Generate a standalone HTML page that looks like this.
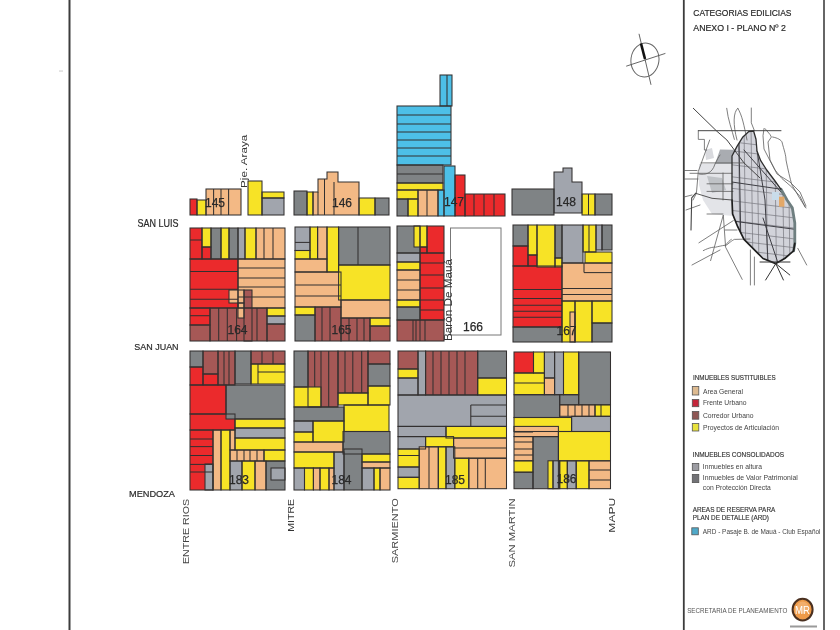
<!DOCTYPE html>
<html><head><meta charset="utf-8">
<style>
html,body{margin:0;padding:0;background:#fff;}
body{width:840px;height:630px;overflow:hidden;position:relative;}
svg{position:absolute;left:0;top:0;filter:blur(0.4px);font-family:"Liberation Sans", sans-serif;}
</style></head><body>
<svg width="840" height="630" viewBox="0 0 840 630">
<rect x="0" y="0" width="840" height="630" fill="#fff"/><rect x="59" y="70.3" width="4" height="1.5" fill="#ddd"/>
<line x1="69.5" y1="0" x2="69.5" y2="630" stroke="#3c3c3c" stroke-width="2"/>
<line x1="683.8" y1="0" x2="683.8" y2="630" stroke="#3c3c3c" stroke-width="1.8"/>
<line x1="824" y1="0" x2="824" y2="630" stroke="#666" stroke-width="2"/>
<g><rect x="190" y="199" width="7" height="16" fill="#EB2A2C"/>
<rect x="197" y="200" width="9" height="15" fill="#F7E326"/>
<rect x="206" y="189" width="35" height="26" fill="#F3B985"/>
<rect x="248" y="181" width="14" height="34" fill="#F7E326"/>
<rect x="262" y="192" width="22" height="6" fill="#F7E326"/>
<rect x="262" y="198" width="22" height="17" fill="#A1A5AD"/>
<rect x="294" y="191" width="13" height="24" fill="#7F8385"/>
<rect x="307" y="192" width="6" height="23" fill="#F7E326"/>
<rect x="359" y="198" width="16" height="17" fill="#F7E326"/>
<rect x="375" y="198" width="14" height="17" fill="#7F8385"/>
<rect x="440" y="75" width="12" height="31" fill="#4DBFE7"/>
<rect x="397" y="106" width="54" height="59" fill="#4DBFE7"/>
<rect x="397" y="165" width="46" height="18" fill="#7F8385"/>
<rect x="397" y="183" width="46" height="7" fill="#F7E326"/>
<rect x="397" y="190" width="21" height="9" fill="#F7E326"/>
<rect x="397" y="199" width="11" height="17" fill="#7F8385"/>
<rect x="408" y="199" width="10" height="17" fill="#F7E326"/>
<rect x="418" y="190" width="20" height="26" fill="#F3B985"/>
<rect x="438" y="190" width="6" height="26" fill="#4DBFE7"/>
<rect x="444" y="166" width="11" height="50" fill="#4DBFE7"/>
<rect x="455" y="175" width="10" height="41" fill="#EB2A2C"/>
<rect x="465" y="194" width="40" height="22" fill="#EB2A2C"/>
<rect x="512" y="189" width="42" height="26" fill="#7F8385"/>
<rect x="582" y="194" width="13" height="21" fill="#F7E326"/>
<rect x="595" y="194" width="17" height="21" fill="#7F8385"/>
<rect x="190" y="228" width="12" height="31" fill="#EB2A2C"/>
<rect x="190" y="259" width="48" height="49" fill="#EB2A2C"/>
<rect x="190" y="308" width="20" height="17" fill="#EB2A2C"/>
<rect x="202" y="247" width="9" height="12" fill="#EB2A2C"/>
<rect x="202" y="228" width="9" height="19" fill="#F7E326"/>
<rect x="211" y="228" width="10" height="31" fill="#7F8385"/>
<rect x="221" y="228" width="8" height="31" fill="#F7E326"/>
<rect x="229" y="228" width="9" height="31" fill="#7F8385"/>
<rect x="238" y="228" width="7" height="31" fill="#A1A5AD"/>
<rect x="245" y="228" width="11" height="31" fill="#F7E326"/>
<rect x="256" y="228" width="29" height="31" fill="#F3B985"/>
<rect x="238" y="259" width="47" height="49" fill="#F3B985"/>
<rect x="190" y="325" width="20" height="16" fill="#A65856"/>
<rect x="210" y="308" width="57" height="33" fill="#A65856"/>
<rect x="229" y="290" width="15" height="13" fill="#F3B985"/>
<rect x="244" y="290" width="8" height="51" fill="#A65856"/>
<rect x="238" y="303" width="6" height="15" fill="#F3B985"/>
<rect x="267" y="308" width="18" height="8" fill="#F7E326"/>
<rect x="267" y="316" width="18" height="8" fill="#A1A5AD"/>
<rect x="267" y="324" width="18" height="17" fill="#A65856"/>
<rect x="295" y="227" width="15" height="23.5" fill="#A1A5AD"/>
<rect x="295" y="250.5" width="15" height="8.5" fill="#F7E326"/>
<rect x="310" y="227" width="7.600000000000023" height="32" fill="#F7E326"/>
<rect x="317.6" y="227" width="9.399999999999977" height="32" fill="#F3B985"/>
<rect x="327" y="227" width="11.600000000000023" height="45" fill="#F7E326"/>
<rect x="338.6" y="227" width="51.39999999999998" height="38" fill="#7F8385"/>
<rect x="295" y="259" width="32" height="13" fill="#F3B985"/>
<rect x="295" y="272" width="46" height="35" fill="#F3B985"/>
<rect x="338.6" y="265" width="51.39999999999998" height="35" fill="#F7E326"/>
<rect x="341" y="300" width="49" height="18" fill="#F3B985"/>
<rect x="295" y="307" width="20" height="8" fill="#F7E326"/>
<rect x="295" y="315" width="20" height="26" fill="#7F8385"/>
<rect x="315" y="307" width="26" height="34" fill="#A65856"/>
<rect x="341" y="318" width="29" height="23" fill="#A65856"/>
<rect x="370" y="318" width="20" height="8" fill="#F7E326"/>
<rect x="370" y="326" width="20" height="15" fill="#A65856"/>
<rect x="397" y="226" width="23" height="27" fill="#7F8385"/>
<rect x="420" y="247" width="7" height="6" fill="#EB2A2C"/>
<rect x="414" y="226" width="13" height="21" fill="#F7E326"/>
<rect x="427" y="226" width="17" height="27" fill="#EB2A2C"/>
<rect x="397" y="253" width="23" height="9" fill="#A1A5AD"/>
<rect x="397" y="262" width="23" height="8" fill="#F7E326"/>
<rect x="397" y="270" width="23" height="30" fill="#F3B985"/>
<rect x="397" y="300" width="23" height="7" fill="#F7E326"/>
<rect x="397" y="307" width="23" height="13" fill="#7F8385"/>
<rect x="420" y="253" width="24" height="67" fill="#EB2A2C"/>
<rect x="397" y="320" width="47" height="21" fill="#A65856"/>
<rect x="513" y="225" width="15" height="21" fill="#7F8385"/>
<rect x="513" y="246" width="15" height="20" fill="#EB2A2C"/>
<rect x="528" y="255" width="9" height="11" fill="#EB2A2C"/>
<rect x="513" y="266" width="49" height="61" fill="#EB2A2C"/>
<rect x="528" y="225" width="9" height="30" fill="#F7E326"/>
<rect x="537" y="225" width="18" height="42" fill="#F7E326"/>
<rect x="555" y="258" width="7" height="9" fill="#F7E326"/>
<rect x="555" y="225" width="7" height="33" fill="#7F8385"/>
<rect x="562" y="225" width="21" height="38" fill="#A1A5AD"/>
<rect x="583" y="225" width="13" height="27" fill="#F7E326"/>
<rect x="596" y="225" width="6" height="25" fill="#A1A5AD"/>
<rect x="602" y="225" width="10" height="25" fill="#7F8385"/>
<rect x="585" y="252" width="27" height="11" fill="#F7E326"/>
<rect x="562" y="263" width="50" height="38" fill="#F3B985"/>
<rect x="562" y="301" width="13" height="41" fill="#F7E326"/>
<rect x="570" y="312" width="5" height="30" fill="#F3B985"/>
<rect x="575" y="301" width="17" height="41" fill="#F7E326"/>
<rect x="592" y="301" width="20" height="22" fill="#F7E326"/>
<rect x="592" y="323" width="20" height="19" fill="#7F8385"/>
<rect x="513" y="327" width="49" height="15" fill="#7F8385"/>
<rect x="190" y="351" width="13" height="16" fill="#7F8385"/>
<rect x="203" y="351" width="15" height="23" fill="#A65856"/>
<rect x="218" y="351" width="17" height="34" fill="#A65856"/>
<rect x="235" y="351" width="16" height="33" fill="#7F8385"/>
<rect x="251" y="351" width="34" height="13" fill="#A65856"/>
<rect x="251" y="364" width="34" height="20" fill="#F7E326"/>
<rect x="190" y="367" width="13" height="18" fill="#EB2A2C"/>
<rect x="203" y="374" width="15" height="11" fill="#EB2A2C"/>
<rect x="190" y="385" width="36" height="29" fill="#EB2A2C"/>
<rect x="190" y="414" width="45" height="16" fill="#EB2A2C"/>
<rect x="190" y="430" width="23" height="60" fill="#EB2A2C"/>
<rect x="226" y="385" width="59" height="34" fill="#7F8385"/>
<rect x="235" y="419" width="50" height="9" fill="#F7E326"/>
<rect x="235" y="428" width="50" height="10" fill="#A1A5AD"/>
<rect x="235" y="438" width="50" height="12" fill="#F7E326"/>
<rect x="213" y="430" width="8" height="60" fill="#F3B985"/>
<rect x="221" y="430" width="9" height="60" fill="#F7E326"/>
<rect x="230" y="430" width="5" height="20" fill="#F3B985"/>
<rect x="230" y="450" width="34" height="11" fill="#F3B985"/>
<rect x="264" y="450" width="21" height="11" fill="#F7E326"/>
<rect x="205" y="464" width="8" height="26" fill="#A1A5AD"/>
<rect x="230" y="461" width="12" height="29" fill="#A1A5AD"/>
<rect x="242" y="461" width="13" height="29" fill="#F7E326"/>
<rect x="255" y="461" width="11" height="29" fill="#F3B985"/>
<rect x="266" y="461" width="19" height="29" fill="#7F8385"/>
<rect x="271" y="468" width="14" height="12" fill="#A1A5AD"/>
<rect x="294" y="351" width="14" height="36" fill="#7F8385"/>
<rect x="308" y="351" width="30" height="56" fill="#A65856"/>
<rect x="338" y="351" width="30" height="42" fill="#A65856"/>
<rect x="368" y="351" width="22" height="13" fill="#A65856"/>
<rect x="368" y="364" width="22" height="22" fill="#7F8385"/>
<rect x="294" y="387" width="27" height="20" fill="#F7E326"/>
<rect x="338" y="393" width="30" height="12" fill="#F7E326"/>
<rect x="368" y="386" width="22" height="19" fill="#F7E326"/>
<rect x="294" y="407" width="50" height="14" fill="#7F8385"/>
<rect x="344" y="405" width="45" height="26.5" fill="#F7E326"/>
<rect x="294" y="421" width="19" height="11" fill="#A1A5AD"/>
<rect x="313" y="421" width="31" height="21" fill="#F7E326"/>
<rect x="294" y="432" width="19" height="10" fill="#F7E326"/>
<rect x="294" y="442" width="49" height="10" fill="#F3B985"/>
<rect x="343" y="431.5" width="47" height="22.5" fill="#7F8385"/>
<rect x="294" y="452" width="40" height="16" fill="#F7E326"/>
<rect x="334" y="452" width="10" height="38" fill="#A1A5AD"/>
<rect x="344" y="449" width="18" height="41" fill="#7F8385"/>
<rect x="362" y="454" width="28" height="8" fill="#F7E326"/>
<rect x="362" y="462" width="28" height="6" fill="#F3B985"/>
<rect x="362" y="468" width="12" height="22" fill="#A1A5AD"/>
<rect x="374" y="468" width="6" height="22" fill="#F7E326"/>
<rect x="380" y="468" width="10" height="22" fill="#F3B985"/>
<rect x="294" y="468" width="10.5" height="22" fill="#A1A5AD"/>
<rect x="304.5" y="468" width="8.899999999999977" height="22" fill="#F7E326"/>
<rect x="313.4" y="468" width="6.600000000000023" height="22" fill="#F3B985"/>
<rect x="320" y="468" width="9" height="22" fill="#F7E326"/>
<rect x="329" y="468" width="5" height="22" fill="#F3B985"/>
<rect x="398" y="351" width="20" height="18" fill="#A65856"/>
<rect x="398" y="369" width="20" height="9" fill="#F7E326"/>
<rect x="398" y="378" width="20" height="17" fill="#A1A5AD"/>
<rect x="418" y="351" width="7.600000000000023" height="44" fill="#A1A5AD"/>
<rect x="425.6" y="351" width="52.099999999999966" height="44" fill="#A65856"/>
<rect x="477.7" y="351" width="28.80000000000001" height="27" fill="#7F8385"/>
<rect x="477.7" y="378" width="28.80000000000001" height="17" fill="#F7E326"/>
<rect x="398" y="395" width="108.5" height="31.399999999999977" fill="#A1A5AD"/>
<rect x="398" y="426.4" width="48" height="10.200000000000045" fill="#A1A5AD"/>
<rect x="446" y="426.4" width="60.5" height="11.600000000000023" fill="#F7E326"/>
<rect x="425.6" y="436.6" width="28.0" height="10.199999999999989" fill="#F7E326"/>
<rect x="398" y="436.6" width="27.600000000000023" height="12.399999999999977" fill="#A1A5AD"/>
<rect x="453.6" y="438" width="52.89999999999998" height="20.19999999999999" fill="#F3B985"/>
<rect x="398" y="449" width="21.19999999999999" height="18" fill="#F7E326"/>
<rect x="398" y="467" width="21.19999999999999" height="10.300000000000011" fill="#A1A5AD"/>
<rect x="398" y="477.3" width="21.19999999999999" height="11.399999999999977" fill="#F7E326"/>
<rect x="419.2" y="446.8" width="19.100000000000023" height="41.89999999999998" fill="#F3B985"/>
<rect x="438.3" y="446.8" width="7.699999999999989" height="41.89999999999998" fill="#F7E326"/>
<rect x="446" y="446.8" width="8.800000000000011" height="41.89999999999998" fill="#A1A5AD"/>
<rect x="454.8" y="458.2" width="14.0" height="30.5" fill="#F7E326"/>
<rect x="468.8" y="458.2" width="37.69999999999999" height="30.5" fill="#F3B985"/>
<rect x="514" y="352" width="19.5" height="21" fill="#EB2A2C"/>
<rect x="533.5" y="352" width="10.899999999999977" height="21" fill="#F7E326"/>
<rect x="514" y="373" width="30.399999999999977" height="21.69999999999999" fill="#F7E326"/>
<rect x="544.4" y="352" width="10.200000000000045" height="26" fill="#A1A5AD"/>
<rect x="544.4" y="378" width="10.200000000000045" height="16.69999999999999" fill="#F3B985"/>
<rect x="554.6" y="352" width="8.899999999999977" height="42.69999999999999" fill="#A1A5AD"/>
<rect x="563.5" y="352" width="15.200000000000045" height="42.69999999999999" fill="#F7E326"/>
<rect x="578.7" y="352" width="31.799999999999955" height="52.80000000000001" fill="#7F8385"/>
<rect x="514" y="394.7" width="45.700000000000045" height="22.80000000000001" fill="#7F8385"/>
<rect x="559.7" y="394.7" width="19.0" height="10.100000000000023" fill="#7F8385"/>
<rect x="559.7" y="404.8" width="35.299999999999955" height="11.5" fill="#F3B985"/>
<rect x="595" y="404.8" width="15.5" height="11.5" fill="#F7E326"/>
<rect x="514" y="417.5" width="57.60000000000002" height="14.0" fill="#F7E326"/>
<rect x="571.6" y="416.3" width="38.89999999999998" height="15.199999999999989" fill="#A1A5AD"/>
<rect x="514" y="426.4" width="44.39999999999998" height="10.200000000000045" fill="#F3B985"/>
<rect x="514" y="436.6" width="19" height="24.19999999999999" fill="#F3B985"/>
<rect x="533" y="436.6" width="25.399999999999977" height="52.099999999999966" fill="#7F8385"/>
<rect x="558.4" y="431.5" width="52.10000000000002" height="29.30000000000001" fill="#F7E326"/>
<rect x="514" y="460.8" width="19" height="11.399999999999977" fill="#F7E326"/>
<rect x="514" y="472.2" width="19" height="16.5" fill="#7F8385"/>
<rect x="548" y="460.8" width="5" height="27.899999999999977" fill="#F7E326"/>
<rect x="553" y="460.8" width="6.7000000000000455" height="27.899999999999977" fill="#A1A5AD"/>
<rect x="559.7" y="460.8" width="7.599999999999909" height="27.899999999999977" fill="#F7E326"/>
<rect x="567.3" y="460.8" width="8.900000000000091" height="27.899999999999977" fill="#A1A5AD"/>
<rect x="576.2" y="460.8" width="12.799999999999955" height="27.899999999999977" fill="#F7E326"/>
<rect x="589" y="460.8" width="21.5" height="27.899999999999977" fill="#F3B985"/>
<polygon points="313,192 318,192 318,179 327,179 327,172 338,172 338,182 359,182 359,215 313,215" fill="#F3B985"/>
<polygon points="554,172 563,172 563,168 572,168 572,182 582,182 582,213 554,213" fill="#A1A5AD"/></g>
<g fill="none" stroke="#333030" stroke-width="1.05"><rect x="190" y="199" width="7" height="16"/>
<rect x="197" y="200" width="9" height="15"/>
<rect x="206" y="189" width="35" height="26"/>
<rect x="248" y="181" width="14" height="34"/>
<rect x="262" y="192" width="22" height="6"/>
<rect x="262" y="198" width="22" height="17"/>
<rect x="294" y="191" width="13" height="24"/>
<rect x="307" y="192" width="6" height="23"/>
<rect x="359" y="198" width="16" height="17"/>
<rect x="375" y="198" width="14" height="17"/>
<rect x="440" y="75" width="12" height="31"/>
<rect x="397" y="106" width="54" height="59"/>
<rect x="397" y="165" width="46" height="18"/>
<rect x="397" y="183" width="46" height="7"/>
<rect x="397" y="190" width="21" height="9"/>
<rect x="397" y="199" width="11" height="17"/>
<rect x="408" y="199" width="10" height="17"/>
<rect x="418" y="190" width="20" height="26"/>
<rect x="438" y="190" width="6" height="26"/>
<rect x="444" y="166" width="11" height="50"/>
<rect x="455" y="175" width="10" height="41"/>
<rect x="465" y="194" width="40" height="22"/>
<rect x="512" y="189" width="42" height="26"/>
<rect x="582" y="194" width="13" height="21"/>
<rect x="595" y="194" width="17" height="21"/>
<rect x="190" y="228" width="12" height="31"/>
<rect x="190" y="259" width="48" height="49"/>
<rect x="190" y="308" width="20" height="17"/>
<rect x="202" y="247" width="9" height="12"/>
<rect x="202" y="228" width="9" height="19"/>
<rect x="211" y="228" width="10" height="31"/>
<rect x="221" y="228" width="8" height="31"/>
<rect x="229" y="228" width="9" height="31"/>
<rect x="238" y="228" width="7" height="31"/>
<rect x="245" y="228" width="11" height="31"/>
<rect x="256" y="228" width="29" height="31"/>
<rect x="238" y="259" width="47" height="49"/>
<rect x="190" y="325" width="20" height="16"/>
<rect x="210" y="308" width="57" height="33"/>
<rect x="229" y="290" width="15" height="13"/>
<rect x="244" y="290" width="8" height="51"/>
<rect x="238" y="303" width="6" height="15"/>
<rect x="267" y="308" width="18" height="8"/>
<rect x="267" y="316" width="18" height="8"/>
<rect x="267" y="324" width="18" height="17"/>
<rect x="295" y="227" width="15" height="23.5"/>
<rect x="295" y="250.5" width="15" height="8.5"/>
<rect x="310" y="227" width="7.600000000000023" height="32"/>
<rect x="317.6" y="227" width="9.399999999999977" height="32"/>
<rect x="327" y="227" width="11.600000000000023" height="45"/>
<rect x="338.6" y="227" width="51.39999999999998" height="38"/>
<rect x="295" y="259" width="32" height="13"/>
<rect x="295" y="272" width="46" height="35"/>
<rect x="338.6" y="265" width="51.39999999999998" height="35"/>
<rect x="341" y="300" width="49" height="18"/>
<rect x="295" y="307" width="20" height="8"/>
<rect x="295" y="315" width="20" height="26"/>
<rect x="315" y="307" width="26" height="34"/>
<rect x="341" y="318" width="29" height="23"/>
<rect x="370" y="318" width="20" height="8"/>
<rect x="370" y="326" width="20" height="15"/>
<rect x="397" y="226" width="23" height="27"/>
<rect x="420" y="247" width="7" height="6"/>
<rect x="414" y="226" width="13" height="21"/>
<rect x="427" y="226" width="17" height="27"/>
<rect x="397" y="253" width="23" height="9"/>
<rect x="397" y="262" width="23" height="8"/>
<rect x="397" y="270" width="23" height="30"/>
<rect x="397" y="300" width="23" height="7"/>
<rect x="397" y="307" width="23" height="13"/>
<rect x="420" y="253" width="24" height="67"/>
<rect x="397" y="320" width="47" height="21"/>
<rect x="513" y="225" width="15" height="21"/>
<rect x="513" y="246" width="15" height="20"/>
<rect x="528" y="255" width="9" height="11"/>
<rect x="513" y="266" width="49" height="61"/>
<rect x="528" y="225" width="9" height="30"/>
<rect x="537" y="225" width="18" height="42"/>
<rect x="555" y="258" width="7" height="9"/>
<rect x="555" y="225" width="7" height="33"/>
<rect x="562" y="225" width="21" height="38"/>
<rect x="583" y="225" width="13" height="27"/>
<rect x="596" y="225" width="6" height="25"/>
<rect x="602" y="225" width="10" height="25"/>
<rect x="585" y="252" width="27" height="11"/>
<rect x="562" y="263" width="50" height="38"/>
<rect x="562" y="301" width="13" height="41"/>
<rect x="570" y="312" width="5" height="30"/>
<rect x="575" y="301" width="17" height="41"/>
<rect x="592" y="301" width="20" height="22"/>
<rect x="592" y="323" width="20" height="19"/>
<rect x="513" y="327" width="49" height="15"/>
<rect x="190" y="351" width="13" height="16"/>
<rect x="203" y="351" width="15" height="23"/>
<rect x="218" y="351" width="17" height="34"/>
<rect x="235" y="351" width="16" height="33"/>
<rect x="251" y="351" width="34" height="13"/>
<rect x="251" y="364" width="34" height="20"/>
<rect x="190" y="367" width="13" height="18"/>
<rect x="203" y="374" width="15" height="11"/>
<rect x="190" y="385" width="36" height="29"/>
<rect x="190" y="414" width="45" height="16"/>
<rect x="190" y="430" width="23" height="60"/>
<rect x="226" y="385" width="59" height="34"/>
<rect x="235" y="419" width="50" height="9"/>
<rect x="235" y="428" width="50" height="10"/>
<rect x="235" y="438" width="50" height="12"/>
<rect x="213" y="430" width="8" height="60"/>
<rect x="221" y="430" width="9" height="60"/>
<rect x="230" y="430" width="5" height="20"/>
<rect x="230" y="450" width="34" height="11"/>
<rect x="264" y="450" width="21" height="11"/>
<rect x="205" y="464" width="8" height="26"/>
<rect x="230" y="461" width="12" height="29"/>
<rect x="242" y="461" width="13" height="29"/>
<rect x="255" y="461" width="11" height="29"/>
<rect x="266" y="461" width="19" height="29"/>
<rect x="271" y="468" width="14" height="12"/>
<rect x="294" y="351" width="14" height="36"/>
<rect x="308" y="351" width="30" height="56"/>
<rect x="338" y="351" width="30" height="42"/>
<rect x="368" y="351" width="22" height="13"/>
<rect x="368" y="364" width="22" height="22"/>
<rect x="294" y="387" width="27" height="20"/>
<rect x="338" y="393" width="30" height="12"/>
<rect x="368" y="386" width="22" height="19"/>
<rect x="294" y="407" width="50" height="14"/>
<rect x="344" y="405" width="45" height="26.5"/>
<rect x="294" y="421" width="19" height="11"/>
<rect x="313" y="421" width="31" height="21"/>
<rect x="294" y="432" width="19" height="10"/>
<rect x="294" y="442" width="49" height="10"/>
<rect x="343" y="431.5" width="47" height="22.5"/>
<rect x="294" y="452" width="40" height="16"/>
<rect x="334" y="452" width="10" height="38"/>
<rect x="344" y="449" width="18" height="41"/>
<rect x="362" y="454" width="28" height="8"/>
<rect x="362" y="462" width="28" height="6"/>
<rect x="362" y="468" width="12" height="22"/>
<rect x="374" y="468" width="6" height="22"/>
<rect x="380" y="468" width="10" height="22"/>
<rect x="294" y="468" width="10.5" height="22"/>
<rect x="304.5" y="468" width="8.899999999999977" height="22"/>
<rect x="313.4" y="468" width="6.600000000000023" height="22"/>
<rect x="320" y="468" width="9" height="22"/>
<rect x="329" y="468" width="5" height="22"/>
<rect x="398" y="351" width="20" height="18"/>
<rect x="398" y="369" width="20" height="9"/>
<rect x="398" y="378" width="20" height="17"/>
<rect x="418" y="351" width="7.600000000000023" height="44"/>
<rect x="425.6" y="351" width="52.099999999999966" height="44"/>
<rect x="477.7" y="351" width="28.80000000000001" height="27"/>
<rect x="477.7" y="378" width="28.80000000000001" height="17"/>
<rect x="398" y="395" width="108.5" height="31.399999999999977"/>
<rect x="398" y="426.4" width="48" height="10.200000000000045"/>
<rect x="446" y="426.4" width="60.5" height="11.600000000000023"/>
<rect x="425.6" y="436.6" width="28.0" height="10.199999999999989"/>
<rect x="398" y="436.6" width="27.600000000000023" height="12.399999999999977"/>
<rect x="453.6" y="438" width="52.89999999999998" height="20.19999999999999"/>
<rect x="398" y="449" width="21.19999999999999" height="18"/>
<rect x="398" y="467" width="21.19999999999999" height="10.300000000000011"/>
<rect x="398" y="477.3" width="21.19999999999999" height="11.399999999999977"/>
<rect x="419.2" y="446.8" width="19.100000000000023" height="41.89999999999998"/>
<rect x="438.3" y="446.8" width="7.699999999999989" height="41.89999999999998"/>
<rect x="446" y="446.8" width="8.800000000000011" height="41.89999999999998"/>
<rect x="454.8" y="458.2" width="14.0" height="30.5"/>
<rect x="468.8" y="458.2" width="37.69999999999999" height="30.5"/>
<rect x="514" y="352" width="19.5" height="21"/>
<rect x="533.5" y="352" width="10.899999999999977" height="21"/>
<rect x="514" y="373" width="30.399999999999977" height="21.69999999999999"/>
<rect x="544.4" y="352" width="10.200000000000045" height="26"/>
<rect x="544.4" y="378" width="10.200000000000045" height="16.69999999999999"/>
<rect x="554.6" y="352" width="8.899999999999977" height="42.69999999999999"/>
<rect x="563.5" y="352" width="15.200000000000045" height="42.69999999999999"/>
<rect x="578.7" y="352" width="31.799999999999955" height="52.80000000000001"/>
<rect x="514" y="394.7" width="45.700000000000045" height="22.80000000000001"/>
<rect x="559.7" y="394.7" width="19.0" height="10.100000000000023"/>
<rect x="559.7" y="404.8" width="35.299999999999955" height="11.5"/>
<rect x="595" y="404.8" width="15.5" height="11.5"/>
<rect x="514" y="417.5" width="57.60000000000002" height="14.0"/>
<rect x="571.6" y="416.3" width="38.89999999999998" height="15.199999999999989"/>
<rect x="514" y="426.4" width="44.39999999999998" height="10.200000000000045"/>
<rect x="514" y="436.6" width="19" height="24.19999999999999"/>
<rect x="533" y="436.6" width="25.399999999999977" height="52.099999999999966"/>
<rect x="558.4" y="431.5" width="52.10000000000002" height="29.30000000000001"/>
<rect x="514" y="460.8" width="19" height="11.399999999999977"/>
<rect x="514" y="472.2" width="19" height="16.5"/>
<rect x="548" y="460.8" width="5" height="27.899999999999977"/>
<rect x="553" y="460.8" width="6.7000000000000455" height="27.899999999999977"/>
<rect x="559.7" y="460.8" width="7.599999999999909" height="27.899999999999977"/>
<rect x="567.3" y="460.8" width="8.900000000000091" height="27.899999999999977"/>
<rect x="576.2" y="460.8" width="12.799999999999955" height="27.899999999999977"/>
<rect x="589" y="460.8" width="21.5" height="27.899999999999977"/>
<polygon points="313,192 318,192 318,179 327,179 327,172 338,172 338,182 359,182 359,215 313,215"/>
<polygon points="554,172 563,172 563,168 572,168 572,182 582,182 582,213 554,213"/>
<line x1="213.6" y1="189" x2="213.6" y2="215"/>
<line x1="221" y1="189" x2="221" y2="215"/>
<line x1="228.6" y1="189" x2="228.6" y2="215"/>
<line x1="318" y1="192" x2="318" y2="215"/>
<line x1="324.5" y1="179" x2="324.5" y2="215"/>
<line x1="334" y1="182" x2="334" y2="215"/>
<line x1="447" y1="75" x2="447" y2="106"/>
<line x1="397" y1="115" x2="451" y2="115"/>
<line x1="397" y1="124" x2="451" y2="124"/>
<line x1="397" y1="132" x2="451" y2="132"/>
<line x1="397" y1="140" x2="451" y2="140"/>
<line x1="397" y1="148" x2="451" y2="148"/>
<line x1="397" y1="156" x2="451" y2="156"/>
<line x1="397" y1="174" x2="443" y2="174"/>
<line x1="427" y1="190" x2="427" y2="216"/>
<line x1="474" y1="194" x2="474" y2="216"/>
<line x1="484" y1="194" x2="484" y2="216"/>
<line x1="494" y1="194" x2="494" y2="216"/>
<line x1="588.5" y1="194" x2="588.5" y2="215"/>
<line x1="190" y1="240" x2="202" y2="240"/>
<line x1="190" y1="271.4" x2="238" y2="271.4"/>
<line x1="190" y1="289.3" x2="238" y2="289.3"/>
<line x1="190" y1="299.3" x2="238" y2="299.3"/>
<line x1="190" y1="315.7" x2="210" y2="315.7"/>
<line x1="264" y1="228" x2="264" y2="259"/>
<line x1="273" y1="228" x2="273" y2="259"/>
<line x1="238" y1="268" x2="285" y2="268"/>
<line x1="238" y1="278" x2="285" y2="278"/>
<line x1="238" y1="287" x2="285" y2="287"/>
<line x1="238" y1="297" x2="285" y2="297"/>
<line x1="218.7" y1="308" x2="218.7" y2="341"/>
<line x1="227.3" y1="308" x2="227.3" y2="341"/>
<line x1="236.6" y1="308" x2="236.6" y2="341"/>
<line x1="257" y1="308" x2="257" y2="341"/>
<line x1="295" y1="242.4" x2="310" y2="242.4"/>
<line x1="358" y1="227" x2="358" y2="265"/>
<line x1="295" y1="285" x2="341" y2="285"/>
<line x1="295" y1="296" x2="341" y2="296"/>
<line x1="322" y1="307" x2="322" y2="341"/>
<line x1="330" y1="307" x2="330" y2="341"/>
<line x1="349" y1="318" x2="349" y2="341"/>
<line x1="357" y1="318" x2="357" y2="341"/>
<line x1="364" y1="318" x2="364" y2="341"/>
<line x1="420" y1="226" x2="420" y2="247"/>
<line x1="397" y1="280" x2="420" y2="280"/>
<line x1="397" y1="290" x2="420" y2="290"/>
<line x1="420" y1="263" x2="444" y2="263"/>
<line x1="420" y1="275" x2="444" y2="275"/>
<line x1="420" y1="288" x2="444" y2="288"/>
<line x1="420" y1="300" x2="444" y2="300"/>
<line x1="420" y1="310" x2="444" y2="310"/>
<line x1="413" y1="320" x2="413" y2="341"/>
<line x1="416" y1="320" x2="416" y2="341"/>
<line x1="420" y1="320" x2="420" y2="341"/>
<line x1="425" y1="320" x2="425" y2="341"/>
<line x1="513" y1="289.4" x2="562" y2="289.4"/>
<line x1="513" y1="298.4" x2="562" y2="298.4"/>
<line x1="513" y1="305.3" x2="562" y2="305.3"/>
<line x1="513" y1="311.3" x2="562" y2="311.3"/>
<line x1="513" y1="317.2" x2="562" y2="317.2"/>
<line x1="589" y1="225" x2="589" y2="252"/>
<line x1="562" y1="288.5" x2="612" y2="288.5"/>
<line x1="562" y1="294.4" x2="612" y2="294.4"/>
<line x1="584" y1="272.6" x2="612" y2="272.6"/>
<line x1="584" y1="263" x2="584" y2="272.6"/>
<line x1="224" y1="351" x2="224" y2="385"/>
<line x1="229" y1="351" x2="229" y2="385"/>
<line x1="262" y1="351" x2="262" y2="364"/>
<line x1="273" y1="351" x2="273" y2="364"/>
<line x1="258" y1="372" x2="285" y2="372"/>
<line x1="258" y1="364" x2="258" y2="384"/>
<line x1="190" y1="439" x2="213" y2="439"/>
<line x1="190" y1="446.6" x2="213" y2="446.6"/>
<line x1="190" y1="455.5" x2="213" y2="455.5"/>
<line x1="190" y1="464.4" x2="213" y2="464.4"/>
<line x1="190" y1="472" x2="213" y2="472"/>
<line x1="237" y1="450" x2="237" y2="461"/>
<line x1="244" y1="450" x2="244" y2="461"/>
<line x1="250" y1="450" x2="250" y2="461"/>
<line x1="257" y1="450" x2="257" y2="461"/>
<line x1="314.7" y1="351" x2="314.7" y2="387"/>
<line x1="321" y1="351" x2="321" y2="407"/>
<line x1="328.7" y1="351" x2="328.7" y2="407"/>
<line x1="345" y1="351" x2="345" y2="393"/>
<line x1="352.8" y1="351" x2="352.8" y2="393"/>
<line x1="361.7" y1="351" x2="361.7" y2="393"/>
<line x1="433" y1="351" x2="433" y2="395"/>
<line x1="441" y1="351" x2="441" y2="395"/>
<line x1="449" y1="351" x2="449" y2="395"/>
<line x1="457" y1="351" x2="457" y2="395"/>
<line x1="465" y1="351" x2="465" y2="395"/>
<line x1="470.8" y1="405" x2="506.5" y2="405"/>
<line x1="470.8" y1="416.3" x2="506.5" y2="416.3"/>
<line x1="470.8" y1="405" x2="470.8" y2="426.4"/>
<line x1="453.6" y1="448" x2="506.5" y2="448"/>
<line x1="398" y1="455.5" x2="419.2" y2="455.5"/>
<line x1="429" y1="446.8" x2="429" y2="488.7"/>
<line x1="477.7" y1="458.2" x2="477.7" y2="488.7"/>
<line x1="485.3" y1="458.2" x2="485.3" y2="488.7"/>
<line x1="514" y1="383" x2="544.4" y2="383"/>
<line x1="568" y1="404.8" x2="568" y2="416.3"/>
<line x1="575" y1="404.8" x2="575" y2="416.3"/>
<line x1="582" y1="404.8" x2="582" y2="416.3"/>
<line x1="589" y1="404.8" x2="589" y2="416.3"/>
<line x1="601" y1="404.8" x2="601" y2="416.3"/>
<line x1="514" y1="432" x2="533" y2="432"/>
<line x1="514" y1="442" x2="533" y2="442"/>
<line x1="514" y1="449" x2="533" y2="449"/>
<line x1="514" y1="455" x2="533" y2="455"/>
<line x1="589" y1="470" x2="610.5" y2="470"/>
<line x1="589" y1="480" x2="610.5" y2="480"/></g>
<rect x="450.5" y="228" width="50.5" height="107" fill="#fff" stroke="#777" stroke-width="1"/>
<text x="215" y="207" font-size="12" fill="#2a2a2a" text-anchor="middle" stroke='#2a2a2a' stroke-width='0.25'>145</text><text x="342" y="206.5" font-size="12" fill="#2a2a2a" text-anchor="middle" stroke='#2a2a2a' stroke-width='0.25'>146</text><text x="454" y="206" font-size="12" fill="#2a2a2a" text-anchor="middle" stroke='#2a2a2a' stroke-width='0.25'>147</text><text x="566" y="206" font-size="12" fill="#2a2a2a" text-anchor="middle" stroke='#2a2a2a' stroke-width='0.25'>148</text><text x="237.5" y="334" font-size="12" fill="#2a2a2a" text-anchor="middle" stroke='#2a2a2a' stroke-width='0.25'>164</text><text x="341.5" y="334" font-size="12" fill="#2a2a2a" text-anchor="middle" stroke='#2a2a2a' stroke-width='0.25'>165</text><text x="473" y="330.5" font-size="12" fill="#2a2a2a" text-anchor="middle" stroke='#2a2a2a' stroke-width='0.25'>166</text><text x="566.5" y="335" font-size="12" fill="#2a2a2a" text-anchor="middle" stroke='#2a2a2a' stroke-width='0.25'>167</text><text x="239" y="483.5" font-size="12" fill="#2a2a2a" text-anchor="middle" stroke='#2a2a2a' stroke-width='0.25'>183</text><text x="341.5" y="483.5" font-size="12" fill="#2a2a2a" text-anchor="middle" stroke='#2a2a2a' stroke-width='0.25'>184</text><text x="455" y="484" font-size="12" fill="#2a2a2a" text-anchor="middle" stroke='#2a2a2a' stroke-width='0.25'>185</text><text x="566.5" y="483" font-size="12" fill="#2a2a2a" text-anchor="middle" stroke='#2a2a2a' stroke-width='0.25'>186</text><text x="137.5" y="226.5" font-size="10.3" fill="#2a2a2a" text-anchor="start" stroke="#2a2a2a" stroke-width="0.2" textLength="41" lengthAdjust="spacingAndGlyphs">SAN LUIS</text><text x="134.3" y="350.3" font-size="9.9" fill="#2a2a2a" text-anchor="start" stroke="#2a2a2a" stroke-width="0.2" textLength="44.3" lengthAdjust="spacingAndGlyphs">SAN JUAN</text><text x="129" y="496.5" font-size="9.9" fill="#2a2a2a" text-anchor="start" stroke="#2a2a2a" stroke-width="0.2" textLength="46" lengthAdjust="spacingAndGlyphs">MENDOZA</text><text transform="translate(189.2,564) rotate(-90)" font-size="9.5" fill="#444" textLength="65" lengthAdjust="spacingAndGlyphs">ENTRE RIOS</text><text transform="translate(294,531.7) rotate(-90)" font-size="9.5" fill="#333" textLength="32.7" lengthAdjust="spacingAndGlyphs">MITRE</text><text transform="translate(398,563.3) rotate(-90)" font-size="9.5" fill="#444" textLength="65" lengthAdjust="spacingAndGlyphs">SARMIENTO</text><text transform="translate(515,567.5) rotate(-90)" font-size="9.5" fill="#444" textLength="69.2" lengthAdjust="spacingAndGlyphs">SAN MARTIN</text><text transform="translate(615.2,532.7) rotate(-90)" font-size="9.5" fill="#333" textLength="35" lengthAdjust="spacingAndGlyphs">MAPU</text><text transform="translate(247.3,188) rotate(-90)" font-size="9.5" fill="#333" textLength="53.4" lengthAdjust="spacingAndGlyphs">Pje. Araya</text><text transform="translate(451.5,341) rotate(-90)" font-size="10" fill="#333" textLength="82" lengthAdjust="spacingAndGlyphs">Barón De Mauá</text>

<g stroke="#444" fill="none">
<ellipse cx="645" cy="60" rx="14" ry="17" transform="rotate(8 645 59.5)" stroke-width="1" stroke="#666"/>
<line x1="639" y1="33.8" x2="651" y2="84.8" stroke-width="0.9" stroke="#555"/>
<line x1="626.2" y1="66.2" x2="665.4" y2="53.4" stroke-width="0.9" stroke="#555"/>
<line x1="641" y1="43.5" x2="645" y2="59" stroke-width="2.6" stroke="#111"/>
</g>


<defs><clipPath id="city"><path d="M748.8,131.5 L753.6,131 L756,139.3 L757,151 L760.7,160.7 L766.7,170 L775,181 L781,189.3 L787,200 L792.3,207.7 L794.8,223 L794.8,243.3 L793.6,250.9 L784.7,258.5 L775.8,263.6 L763,258.5 L754.2,249.6 L744,239.4 L737.7,226.7 L732.6,214 L732,200 L732,156 L737,146.4 L742.9,136.9 Z"/></clipPath></defs>
<g fill="none" stroke-linecap="round" stroke-linejoin="round">
<path d="M699,164 L733,163 L733,216 L712,214 L703,200 L699,185 Z" fill="#E3E4E8" stroke="none"/>
<path d="M707,176 L722,178 L726,190 L712,193 Z" fill="#BFC2C6" stroke="none"/>
<path d="M720,149.5 L744,150 L744,164 L715,164 Z" fill="#A9ACB1" stroke="none"/>
<path d="M705,150 L712,148 L714,158 L706,160 Z" fill="#D9DADE" stroke="none"/>
<path d="M748.8,131.5 L753.6,131 L756,139.3 L757,151 L760.7,160.7 L766.7,170 L775,181 L781,189.3 L787,200 L792.3,207.7 L794.8,223 L794.8,243.3 L793.6,250.9 L784.7,258.5 L775.8,263.6 L763,258.5 L754.2,249.6 L744,239.4 L737.7,226.7 L732.6,214 L732,200 L732,156 L737,146.4 L742.9,136.9 Z" fill="#D2D3DA" stroke="none"/>
<g clip-path="url(#city)" stroke="#77777e" stroke-width="0.7"><path d="M738.3,125 L740.3,270 M744,125 L746,270 M751,125 L753,270 M757,125 L759,270 M765.6,125 L767.6,270 M774.5,125 L776.5,270 M782,125 L784,270 M788,125 L790,270 M725,141 L800,150 M725,150 L800,159 M725,164 L800,173 M725,176 L800,185 M725,187.5 L800,196.5 M725,200 L800,209 M725,209.6 L800,218.6 M725,219.8 L800,228.8 M725,230.6 L800,239.6 M725,239.4 L800,248.4 M725,248.3 L800,257.3"/></g>
<g clip-path="url(#city)" stroke="#3e3e44" stroke-width="1"><path d="M739,140 L741,250 M744,150 L795,208 M725,181 L800,192 M725,220 L800,230 M763,218 L782,275 M757,150 L765,200 L768,262"/></g>
<path d="M781,189.3 L787,200 L792.3,207.7 L794.8,223 L794.8,243.3 L793.6,250.9" stroke="#6f7f80" stroke-width="2.8"/>
<g stroke="#5e5e5e" stroke-width="0.8">
<path d="M726.7,108.3 C728,120 732,130 734.4,139.4 M737.8,108.3 C733,112 733,125 737,140 M737.8,108.3 C742,115 744,125 747,140 M751.3,108 L751.3,122.8 L754.4,130.6"/>
<path d="M764,128.6 L763,135.7 L764,149 L770,160.7 L775,170 L782,178.6 L791.7,187 L800,196.4 L805,207 M765,128.6 L770,134.5 L771.4,137 L768,142 L770,160 L777,174 L790,182 L800,192 L806,206 M772.6,137 C778,138 781,140 782,142 C784,150 786,155 786,160 C788,170 790,178 791.7,184.5 L800,198.8 L806,208"/>
<path d="M709.7,140 L698.3,171.4 L696.4,193.3 L693,200 M698.3,130.8 L698.3,139.4 L704.4,139.4 L704.4,150 L706.7,150"/>
<path d="M690,173.3 L732,173.3 M684,170.5 L697,170.5 M684,179 L698,179 M701,162.9 L744,162.9 M699,174 C705,175 712,174 715,164 C717,160 719,156 720,155 M723,173 L723,200 M707,183.8 L733,183.8 M707,191.4 L733,191.4 M707,214 L723,214 M698.9,242.8 L733.3,220.6 M710.6,260.6 L723.3,215 L725.6,247.2 L742.2,279.4 M703.3,250.6 C710,247 715,247 715.6,247.2 C720,246 726,245 726.7,245 C730,242 734,239.4 734.4,239.4 L750,239 M725,230 L737,230 M750.4,250 L750.4,285 M754.4,257 L754.4,285 M797.8,248.3 L806.7,265 M725,245.8 C728,242 730,240 731.3,239.4 M686,210 L700,205 M692,265 L720,250 M684,197 L692,195"/>
</g>
<path d="M698.3,130.7 L781,130.7" stroke="#444" stroke-width="1"/>
<path d="M693.3,108.3 L716.7,131.1 L726.9,140 L744,162.9 L760,178" stroke="#444" stroke-width="1"/>
<path d="M732,200 L732,156 L737,146.4 L742.9,136.9 L748.8,131.5 L753.6,131 L756,139.3 L757,151 L760.7,160.7 L766.7,170 L775,181 L781,189.3" stroke="#2e2e2e" stroke-width="1.3"/>
<path d="M732,200 L732.6,214 L737.7,226.7 L744,239.4 L754.2,249.6 L763,258.5 L775.8,263.6 L784.7,258.5 L793.6,250.9 L794.8,243.3" stroke="#1e1e1e" stroke-width="1.7"/>
<path d="M775.8,263.6 L765.6,280 M775.8,263.6 L783.4,280 M775.8,263.6 L789.8,275 M760,262 L790,262" stroke="#333" stroke-width="1"/>
<path d="M691,230 L691.7,197.8 L695.6,193.3" stroke="#444" stroke-width="1.1"/>
<path d="M695.6,193.3 L712,198.3 L732,200" stroke="#444" stroke-width="0.9"/>
<path d="M772,192 L779,192 L779,200 L772,200 Z" fill="#C9DCEA" stroke="none"/>
<path d="M779,196.7 L784.4,196.7 L784.4,206.7 L779,206.7 Z" fill="#E3A868" stroke="none"/>
</g>

<text x="693.3" y="16.2" font-size="9.5" fill="#2a2a2a" text-anchor="start" stroke="#2a2a2a" stroke-width="0.2" textLength="98.2" lengthAdjust="spacingAndGlyphs">CATEGORIAS EDILICIAS</text><text x="693.3" y="31.4" font-size="9.5" fill="#2a2a2a" text-anchor="start" stroke="#2a2a2a" stroke-width="0.2" textLength="92.5" lengthAdjust="spacingAndGlyphs">ANEXO I - PLANO Nº 2</text><text x="692.9" y="380" font-size="6.8" fill="#333" text-anchor="start" stroke="#333" stroke-width="0.15" textLength="82.8" lengthAdjust="spacingAndGlyphs">INMUEBLES SUSTITUIBLES</text><rect x="692.3" y="386.5" width="6.5" height="8.5" fill="#DDBA90" stroke="#555" stroke-width="0.8"/><text x="703" y="393.5" font-size="7.5" fill="#444" text-anchor="start" textLength="40" lengthAdjust="spacingAndGlyphs">Area General</text><rect x="692.3" y="399.5" width="6.5" height="7.199999999999989" fill="#C4263A" stroke="#555" stroke-width="0.8"/><text x="703" y="405.2" font-size="7.5" fill="#444" text-anchor="start" textLength="43.5" lengthAdjust="spacingAndGlyphs">Frente Urbano</text><rect x="692.3" y="411.5" width="6.5" height="7.699999999999989" fill="#8E5654" stroke="#555" stroke-width="0.8"/><text x="703" y="417.7" font-size="7.5" fill="#444" text-anchor="start" textLength="50.6" lengthAdjust="spacingAndGlyphs">Corredor Urbano</text><rect x="692.3" y="423.5" width="6.5" height="7.5" fill="#E8E23C" stroke="#555" stroke-width="0.8"/><text x="703" y="429.5" font-size="7.5" fill="#444" text-anchor="start" textLength="76" lengthAdjust="spacingAndGlyphs">Proyectos de Articulación</text><text x="692.7" y="457" font-size="6.8" fill="#333" text-anchor="start" stroke="#333" stroke-width="0.15" textLength="91.3" lengthAdjust="spacingAndGlyphs">INMUEBLES CONSOLIDADOS</text><rect x="692.3" y="463.5" width="6.5" height="6.899999999999977" fill="#9C9CA2" stroke="#555" stroke-width="0.8"/><text x="702.8" y="469" font-size="7.5" fill="#444" text-anchor="start" textLength="59.2" lengthAdjust="spacingAndGlyphs">Inmuebles en altura</text><rect x="692.3" y="474.4" width="6.5" height="8.200000000000045" fill="#727276" stroke="#555" stroke-width="0.8"/><text x="702.8" y="480.2" font-size="7.5" fill="#444" text-anchor="start" textLength="95" lengthAdjust="spacingAndGlyphs">Inmuebles de Valor Patrimonial</text><text x="702.8" y="489.5" font-size="7.5" fill="#444" text-anchor="start" textLength="68" lengthAdjust="spacingAndGlyphs">con Protección Directa</text><text x="692.7" y="512.2" font-size="6.8" fill="#333" text-anchor="start" stroke="#333" stroke-width="0.15" textLength="82.6" lengthAdjust="spacingAndGlyphs">AREAS DE RESERVA PARA</text><text x="692.7" y="520.3" font-size="6.8" fill="#333" text-anchor="start" stroke="#333" stroke-width="0.15" textLength="76.3" lengthAdjust="spacingAndGlyphs">PLAN DE DETALLE (ARD)</text><rect x="691.8" y="527.8" width="6.5" height="7" fill="#4FA9C9" stroke="#555" stroke-width="0.8"/><text x="702.8" y="534" font-size="7.5" fill="#444" text-anchor="start" textLength="117.7" lengthAdjust="spacingAndGlyphs">ARD - Pasaje B. de Mauá - Club Español</text><text x="687.2" y="613" font-size="6.5" fill="#555" text-anchor="start" textLength="100.2" lengthAdjust="spacingAndGlyphs">SECRETARIA DE PLANEAMIENTO</text>

<ellipse cx="802.6" cy="609.6" rx="10" ry="10.8" fill="#EE9A48" stroke="#4a3020" stroke-width="2"/>
<ellipse cx="802.6" cy="607.5" rx="6" ry="6" fill="#F6C08A" opacity="0.55"/>
<text x="802.6" y="613.6" font-size="10.5" fill="#fff" text-anchor="middle" textLength="15" lengthAdjust="spacingAndGlyphs">MR</text>
<rect x="790" y="625.5" width="27" height="2" fill="#9a9a9a"/>

</svg>
</body></html>
